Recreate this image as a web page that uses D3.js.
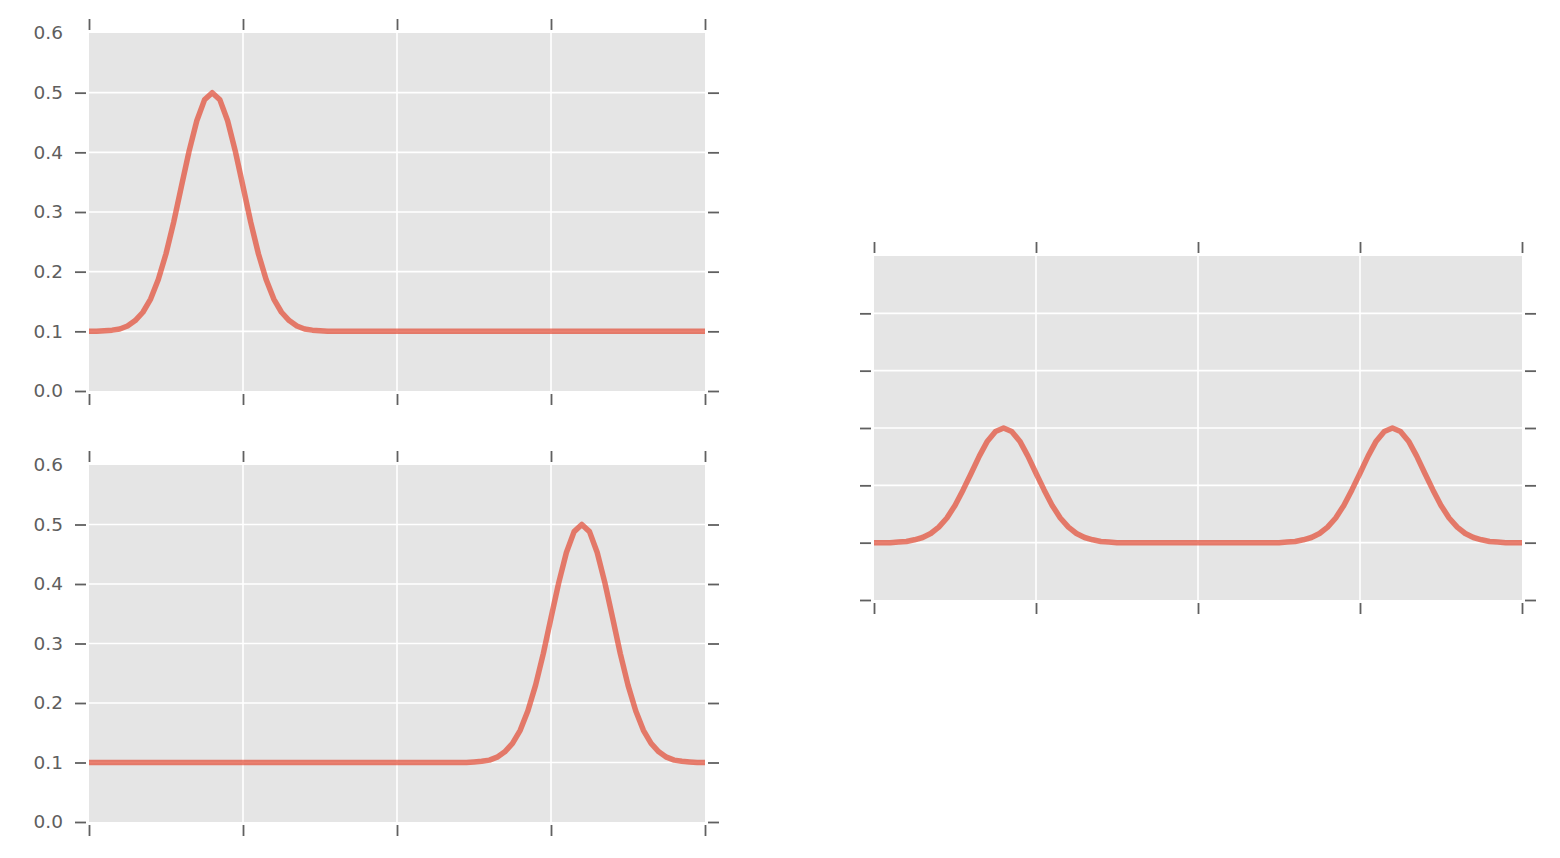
<!DOCTYPE html>
<html>
<head>
<meta charset="utf-8">
<script src="https://cdn.jsdelivr.net/npm/d3@7"></script>
<style>
  html, body { margin: 0; padding: 0; background: #ffffff; }
  svg { display: block; }
</style>
</head>
<body>
<svg id="chart" width="1560" height="858"></svg>
<script>
// ---- data ----
const xValues = [
  0.00, 0.05, 0.10, 0.15, 0.20, 0.25, 0.30, 0.35, 0.40, 0.45,
  0.50, 0.55, 0.60, 0.65, 0.70, 0.75, 0.80, 0.85, 0.90, 0.95,
  1.00, 1.05, 1.10, 1.15, 1.20, 1.25, 1.30, 1.35, 1.40, 1.45,
  1.50, 1.55, 1.60, 1.65, 1.70, 1.75, 1.80, 1.85, 1.90, 1.95,
  2.00, 2.05, 2.10, 2.15, 2.20, 2.25, 2.30, 2.35, 2.40, 2.45,
  2.50, 2.55, 2.60, 2.65, 2.70, 2.75, 2.80, 2.85, 2.90, 2.95,
  3.00, 3.05, 3.10, 3.15, 3.20, 3.25, 3.30, 3.35, 3.40, 3.45,
  3.50, 3.55, 3.60, 3.65, 3.70, 3.75, 3.80, 3.85, 3.90, 3.95,
  4.00
];

const seriesTopLeft = [
  0.100, 0.100, 0.101, 0.102, 0.104, 0.109, 0.118, 0.132, 0.154, 0.187,
  0.230, 0.283, 0.343, 0.402, 0.453, 0.488, 0.500, 0.488, 0.453, 0.402,
  0.343, 0.283, 0.230, 0.187, 0.154, 0.132, 0.118, 0.109, 0.104, 0.102,
  0.101, 0.100, 0.100, 0.100, 0.100, 0.100, 0.100, 0.100, 0.100, 0.100,
  0.100, 0.100, 0.100, 0.100, 0.100, 0.100, 0.100, 0.100, 0.100, 0.100,
  0.100, 0.100, 0.100, 0.100, 0.100, 0.100, 0.100, 0.100, 0.100, 0.100,
  0.100, 0.100, 0.100, 0.100, 0.100, 0.100, 0.100, 0.100, 0.100, 0.100,
  0.100, 0.100, 0.100, 0.100, 0.100, 0.100, 0.100, 0.100, 0.100, 0.100,
  0.100
];

const seriesBottomLeft = [
  0.100, 0.100, 0.100, 0.100, 0.100, 0.100, 0.100, 0.100, 0.100, 0.100,
  0.100, 0.100, 0.100, 0.100, 0.100, 0.100, 0.100, 0.100, 0.100, 0.100,
  0.100, 0.100, 0.100, 0.100, 0.100, 0.100, 0.100, 0.100, 0.100, 0.100,
  0.100, 0.100, 0.100, 0.100, 0.100, 0.100, 0.100, 0.100, 0.100, 0.100,
  0.100, 0.100, 0.100, 0.100, 0.100, 0.100, 0.100, 0.100, 0.100, 0.100,
  0.101, 0.102, 0.104, 0.109, 0.118, 0.132, 0.154, 0.187, 0.230, 0.283,
  0.343, 0.402, 0.453, 0.488, 0.500, 0.488, 0.453, 0.402, 0.343, 0.283,
  0.230, 0.187, 0.154, 0.132, 0.118, 0.109, 0.104, 0.102, 0.101, 0.100,
  0.100
];

const seriesRight = [
  0.100, 0.100, 0.100, 0.101, 0.102, 0.105, 0.109, 0.116, 0.127, 0.143,
  0.165, 0.192, 0.221, 0.251, 0.277, 0.294, 0.300, 0.294, 0.277, 0.251,
  0.221, 0.192, 0.165, 0.143, 0.127, 0.116, 0.109, 0.105, 0.102, 0.101,
  0.100, 0.100, 0.100, 0.100, 0.100, 0.100, 0.100, 0.100, 0.100, 0.100,
  0.100, 0.100, 0.100, 0.100, 0.100, 0.100, 0.100, 0.100, 0.100, 0.100,
  0.100, 0.101, 0.102, 0.105, 0.109, 0.116, 0.127, 0.143, 0.165, 0.192,
  0.221, 0.251, 0.277, 0.294, 0.300, 0.294, 0.277, 0.251, 0.221, 0.192,
  0.165, 0.143, 0.127, 0.116, 0.109, 0.105, 0.102, 0.101, 0.100, 0.100,
  0.100
];

const xDomain = [0, 4];
const yDomain = [0, 0.6];
const xTicks = [0, 1, 2, 3, 4];
const xGridTicks = [1, 2, 3];
const yTicks = [0.0, 0.1, 0.2, 0.3, 0.4, 0.5];
const yGridTicks = [0.1, 0.2, 0.3, 0.4, 0.5];
const yTickLabels = ["0.0", "0.1", "0.2", "0.3", "0.4", "0.5", "0.6"];
const yLabelValues = [0.0, 0.1, 0.2, 0.3, 0.4, 0.5, 0.6];

// ---- layout ----
const panels = [
  { x0: 89,  x1: 705,  y0: 33,  y1: 391, data: seriesTopLeft,    labels: true },
  { x0: 89,  x1: 705,  y0: 465, y1: 822, data: seriesBottomLeft, labels: true },
  { x0: 874, x1: 1522, y0: 256, y1: 600, data: seriesRight,      labels: false }
];

const svg = d3.select("#chart");
const BG = "#E5E5E5";
const TICK = "#606060";
const LABEL = "#5e5e5e";
const LINE = "#E24A33";
const GAP = 3, TLEN = 11;

panels.forEach((p, idx) => {
  const x = d3.scaleLinear().domain(xDomain).range([p.x0, p.x1]);
  const y = d3.scaleLinear().domain(yDomain).range([p.y1, p.y0]);
  const g = svg.append("g");

  g.append("rect")
    .attr("x", p.x0).attr("y", p.y0)
    .attr("width", p.x1 - p.x0).attr("height", p.y1 - p.y0)
    .attr("fill", BG);

  // grid
  g.append("g").selectAll("line.h").data(yGridTicks).join("line")
    .attr("x1", p.x0).attr("x2", p.x1)
    .attr("y1", d => y(d)).attr("y2", d => y(d))
    .attr("stroke", "#ffffff").attr("stroke-width", 1.6);
  g.append("g").selectAll("line.v").data(xGridTicks).join("line")
    .attr("y1", p.y0).attr("y2", p.y1)
    .attr("x1", d => x(d)).attr("x2", d => x(d))
    .attr("stroke", "#ffffff").attr("stroke-width", 1.6);

  // curve
  const clipId = "clip" + idx;
  g.append("clipPath").attr("id", clipId).append("rect")
    .attr("x", p.x0).attr("y", p.y0 - 6)
    .attr("width", p.x1 - p.x0).attr("height", p.y1 - p.y0 + 12);
  const line = d3.line()
    .x((d, i) => x(xValues[i]))
    .y(d => y(d))
    .curve(d3.curveLinear);
  g.append("path")
    .datum(p.data)
    .attr("clip-path", `url(#${clipId})`)
    .attr("d", line)
    .attr("fill", "none")
    .attr("stroke", LINE)
    .attr("stroke-opacity", 0.7)
    .attr("stroke-width", 5.5)
    .attr("stroke-linejoin", "round");

  // tick marks
  const styleAxis = sel => {
    sel.select(".domain").remove();
    sel.selectAll(".tick line").attr("stroke", TICK).attr("stroke-width", 1.8);
  };
  g.append("g").attr("transform", `translate(${p.x0 - GAP},0)`)
    .call(d3.axisLeft(y).tickValues(yTicks).tickSize(TLEN).tickFormat(""))
    .call(styleAxis);
  g.append("g").attr("transform", `translate(${p.x1 + GAP},0)`)
    .call(d3.axisRight(y).tickValues(yTicks).tickSize(TLEN).tickFormat(""))
    .call(styleAxis);
  g.append("g").attr("transform", `translate(0,${p.y0 - GAP})`)
    .call(d3.axisTop(x).tickValues(xTicks).tickSize(TLEN).tickFormat(""))
    .call(styleAxis);
  g.append("g").attr("transform", `translate(0,${p.y1 + GAP})`)
    .call(d3.axisBottom(x).tickValues(xTicks).tickSize(TLEN).tickFormat(""))
    .call(styleAxis);

  // labels
  if (p.labels) {
    const lab = g.append("g").attr("transform", `translate(${p.x0 - GAP},0)`)
      .call(d3.axisLeft(y).tickValues(yLabelValues).tickSize(0).tickPadding(23)
        .tickFormat((d, i) => yTickLabels[i]));
    lab.select(".domain").remove();
    lab.selectAll(".tick line").remove();
    lab.selectAll(".tick text")
      .attr("fill", LABEL)
      .style("font-family", "'DejaVu Sans', sans-serif")
      .style("font-size", "18.5px");
  }
});
</script>
</body>
</html>
